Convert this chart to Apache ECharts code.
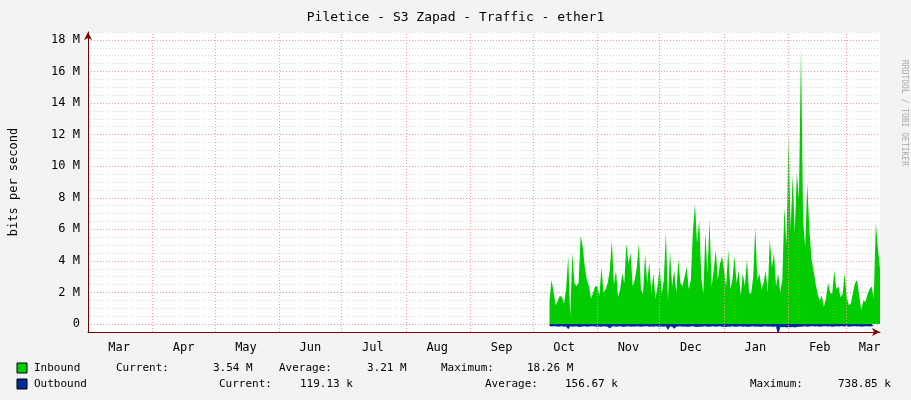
<!DOCTYPE html>
<html>
<head>
<meta charset="utf-8">
<script src="https://cdn.jsdelivr.net/npm/echarts@6/dist/echarts.min.js"></script>
<style>
  html, body { margin: 0; padding: 0; background: #f3f3f3; }
  #main { width: 911px; height: 400px; }
</style>
</head>
<body>
<div id="main"></div>
<script>
// days counted from Mar 1 of the first year
const monthNames = ["Mar", "Apr", "May", "Jun", "Jul", "Aug", "Sep", "Oct", "Nov", "Dec", "Jan", "Feb", "Mar"];
const monthStarts = [0, 31, 61, 92, 122, 153, 184, 214, 245, 275, 306, 337, 365];
const yTicks = [0, 2, 4, 6, 8, 10, 12, 14, 16, 18];

const firstDay = 222;
// inbound, Mbit/s, one value per day
const inbound = [
  1.5, 2.8, 2.0, 1.2, 1.5, 1.8, 1.7, 1.3, 2.2, 4.3, 0.5, 4.5, 2.6, 2.4, 2.6, 5.6, 4.9, 3.6, 2.8, 2.4, 1.6, 2.0, 2.4,
  2.4, 1.8, 3.6, 2.0, 2.2, 2.6, 3.4, 5.3, 2.5, 3.4, 1.7, 2.2, 3.2, 2.6, 5.1, 3.8, 4.5, 2.4, 2.8, 3.6, 5.1, 2.2, 1.9, 4.4, 2.6, 3.9, 2.0, 3.2, 1.6, 2.4,
  3.6, 1.9, 2.8, 5.8, 1.5, 4.6, 2.4, 3.4, 2.0, 4.1, 2.6, 2.4, 3.0, 3.6, 2.2, 2.8, 5.9, 7.6, 5.1, 6.6, 3.0, 1.9, 5.8, 3.2, 6.6, 2.4, 3.4, 4.7, 2.8, 3.8, 4.3,
  3.4, 2.4, 4.7, 2.2, 2.8, 4.3, 2.6, 3.4, 1.8, 3.2, 2.4, 4.1, 2.0, 1.9, 3.0, 6.1, 2.8, 3.2, 2.2, 2.6, 3.4, 2.0, 5.4, 3.6, 4.5, 2.4, 3.2, 2.0, 2.8, 7.4, 5.0,
  11.9, 6.0, 9.4, 5.8, 9.6, 7.9, 17.5, 6.6, 4.9, 8.9, 6.0, 4.2, 3.4, 2.6, 1.9, 1.5, 1.8, 1.1, 1.6, 2.6, 2.0, 1.9, 3.4, 2.2, 2.4, 1.7, 1.9, 3.2,
  1.7, 1.2, 1.3, 2.0, 2.6, 2.8, 1.8, 0.9, 1.5, 1.4, 1.9, 2.2, 2.4, 1.6, 6.4, 4.8, 3.5
];
// outbound, kbit/s, one value per day (drawn below zero)
const outbound = [
  120, 150, 140, 130, 160, 150, 140, 170, 150, 320, 140, 160, 150, 130, 180, 160, 150, 140, 170, 150, 130, 140, 150,
  160, 150, 170, 140, 150, 160, 280, 150, 140, 160, 150, 130, 170, 160, 150, 140, 160, 150, 170, 140, 150, 160, 150, 140, 130, 160, 150, 170, 140, 150, 160,
  150, 160, 140, 380, 150, 170, 300, 160, 150, 140, 160, 150, 170, 160, 150, 140, 160, 180, 170, 160, 150, 140, 170, 160, 150, 140, 160, 150, 140, 170, 160,
  180, 150, 160, 140, 170, 160, 150, 140, 160, 150, 170, 160, 150, 140, 160, 150, 170, 160, 150, 140, 160, 150, 170, 160, 150, 740, 180,
  200, 190, 210, 180, 200, 190, 220, 180, 170, 160, 150, 140, 160, 150, 140, 130, 150, 140, 160, 150, 140, 130, 150, 140, 160, 150, 140, 150,
  140, 130, 150, 140, 160, 150, 140, 130, 150, 140, 160, 150, 140, 130, 150, 140, 119
];

const inData = inbound.map((v, i) => [firstDay + i, v]);
const outData = outbound.map((v, i) => [firstDay + i, -v / 1000]);
const labelDays = monthStarts.map((d) => Math.min(d + 15, 376));

const mono = "DejaVu Sans Mono";
const chart = echarts.init(document.getElementById("main"));

const txt = (x, y, s) => ({
  type: "text", x: x, y: y,
  style: { text: s, font: "11px " + mono, fill: "#000", textVerticalAlign: "middle" }
});

const option = {
  backgroundColor: "#f3f3f3",
  animation: false,
  title: {
    text: "Piletice - S3 Zapad - Traffic - ether1",
    left: "center", top: 6,
    textStyle: { fontFamily: mono, fontSize: 13, fontWeight: "normal", color: "#000" }
  },
  grid: { left: 82, right: 31, top: 32, bottom: 68, backgroundColor: "#fff", show: true, borderWidth: 0 },
  xAxis: {
    type: "value", min: 0, max: 381,
    axisLine: { onZero: false, lineStyle: { color: "#800000" }, symbol: ["none", "arrow"], symbolSize: [6, 8] },
    axisTick: { show: false },
    splitLine: { show: false },
    axisLabel: {
      customValues: labelDays,
      formatter: (v) => monthNames[labelDays.indexOf(v)] || "",
      fontFamily: mono, fontSize: 12, color: "#000", margin: 10
    }
  },
  yAxis: {
    type: "value", min: -0.5, max: 18.5, interval: 0.5,
    name: "bits per second", nameLocation: "middle", nameGap: 68,
    nameTextStyle: { fontFamily: mono, fontSize: 12, color: "#000" },
    axisLine: { show: true, lineStyle: { color: "#800000" }, symbol: ["none", "arrow"], symbolSize: [6, 8] },
    axisTick: { show: false },
    axisLabel: {
      interval: 0, showMaxLabel: false, showMinLabel: false,
      formatter: (v) => (yTicks.indexOf(v) >= 0 ? (v === 0 ? "0" : v + " M") : ""),
      fontFamily: mono, fontSize: 12, color: "#000", margin: 8
    },
    splitLine: {
      lineStyle: {
        type: [1, 2],
        color: ["#dcdcdc", "#f0a0a0", "#dcdcdc", "#dcdcdc"]
      }
    }
  },
  series: [
    {
      name: "Inbound", type: "line", data: inData, symbol: "none",
      lineStyle: { width: 0 }, areaStyle: { color: "#00cc00", opacity: 1 },
      markLine: {
        silent: true, symbol: "none", label: { show: false },
        lineStyle: { color: "#f4a0a0", type: [1, 2], width: 1 },
        data: monthStarts.slice(1).map((d) => ({ xAxis: d }))
      },
      z: 3
    },
    {
      name: "Outbound", type: "line", data: outData, symbol: "none",
      lineStyle: { width: 0 }, areaStyle: { color: "#002a97", opacity: 1 }, z: 3
    }
  ],
  graphic: [
    {
      type: "text", x: 904, y: 60, rotation: -Math.PI / 2,
      style: { text: "RRDTOOL / TOBI OETIKER", font: "8px " + mono, fill: "#aaa", textVerticalAlign: "middle" }
    },
    { type: "rect", shape: { x: 17, y: 363, width: 10, height: 10 }, style: { fill: "#00cc00", stroke: "#000" } },
    { type: "rect", shape: { x: 17, y: 379, width: 10, height: 10 }, style: { fill: "#002a97", stroke: "#000" } },
    txt(34, 368, "Inbound"), txt(116, 368, "Current:"), txt(213, 368, "3.54 M"),
    txt(279, 368, "Average:"), txt(367, 368, "3.21 M"), txt(441, 368, "Maximum:"), txt(527, 368, "18.26 M"),
    txt(34, 384, "Outbound"), txt(219, 384, "Current:"), txt(300, 384, "119.13 k"),
    txt(485, 384, "Average:"), txt(565, 384, "156.67 k"), txt(750, 384, "Maximum:"), txt(838, 384, "738.85 k")
  ]
};

chart.setOption(option);
</script>
</body>
</html>
